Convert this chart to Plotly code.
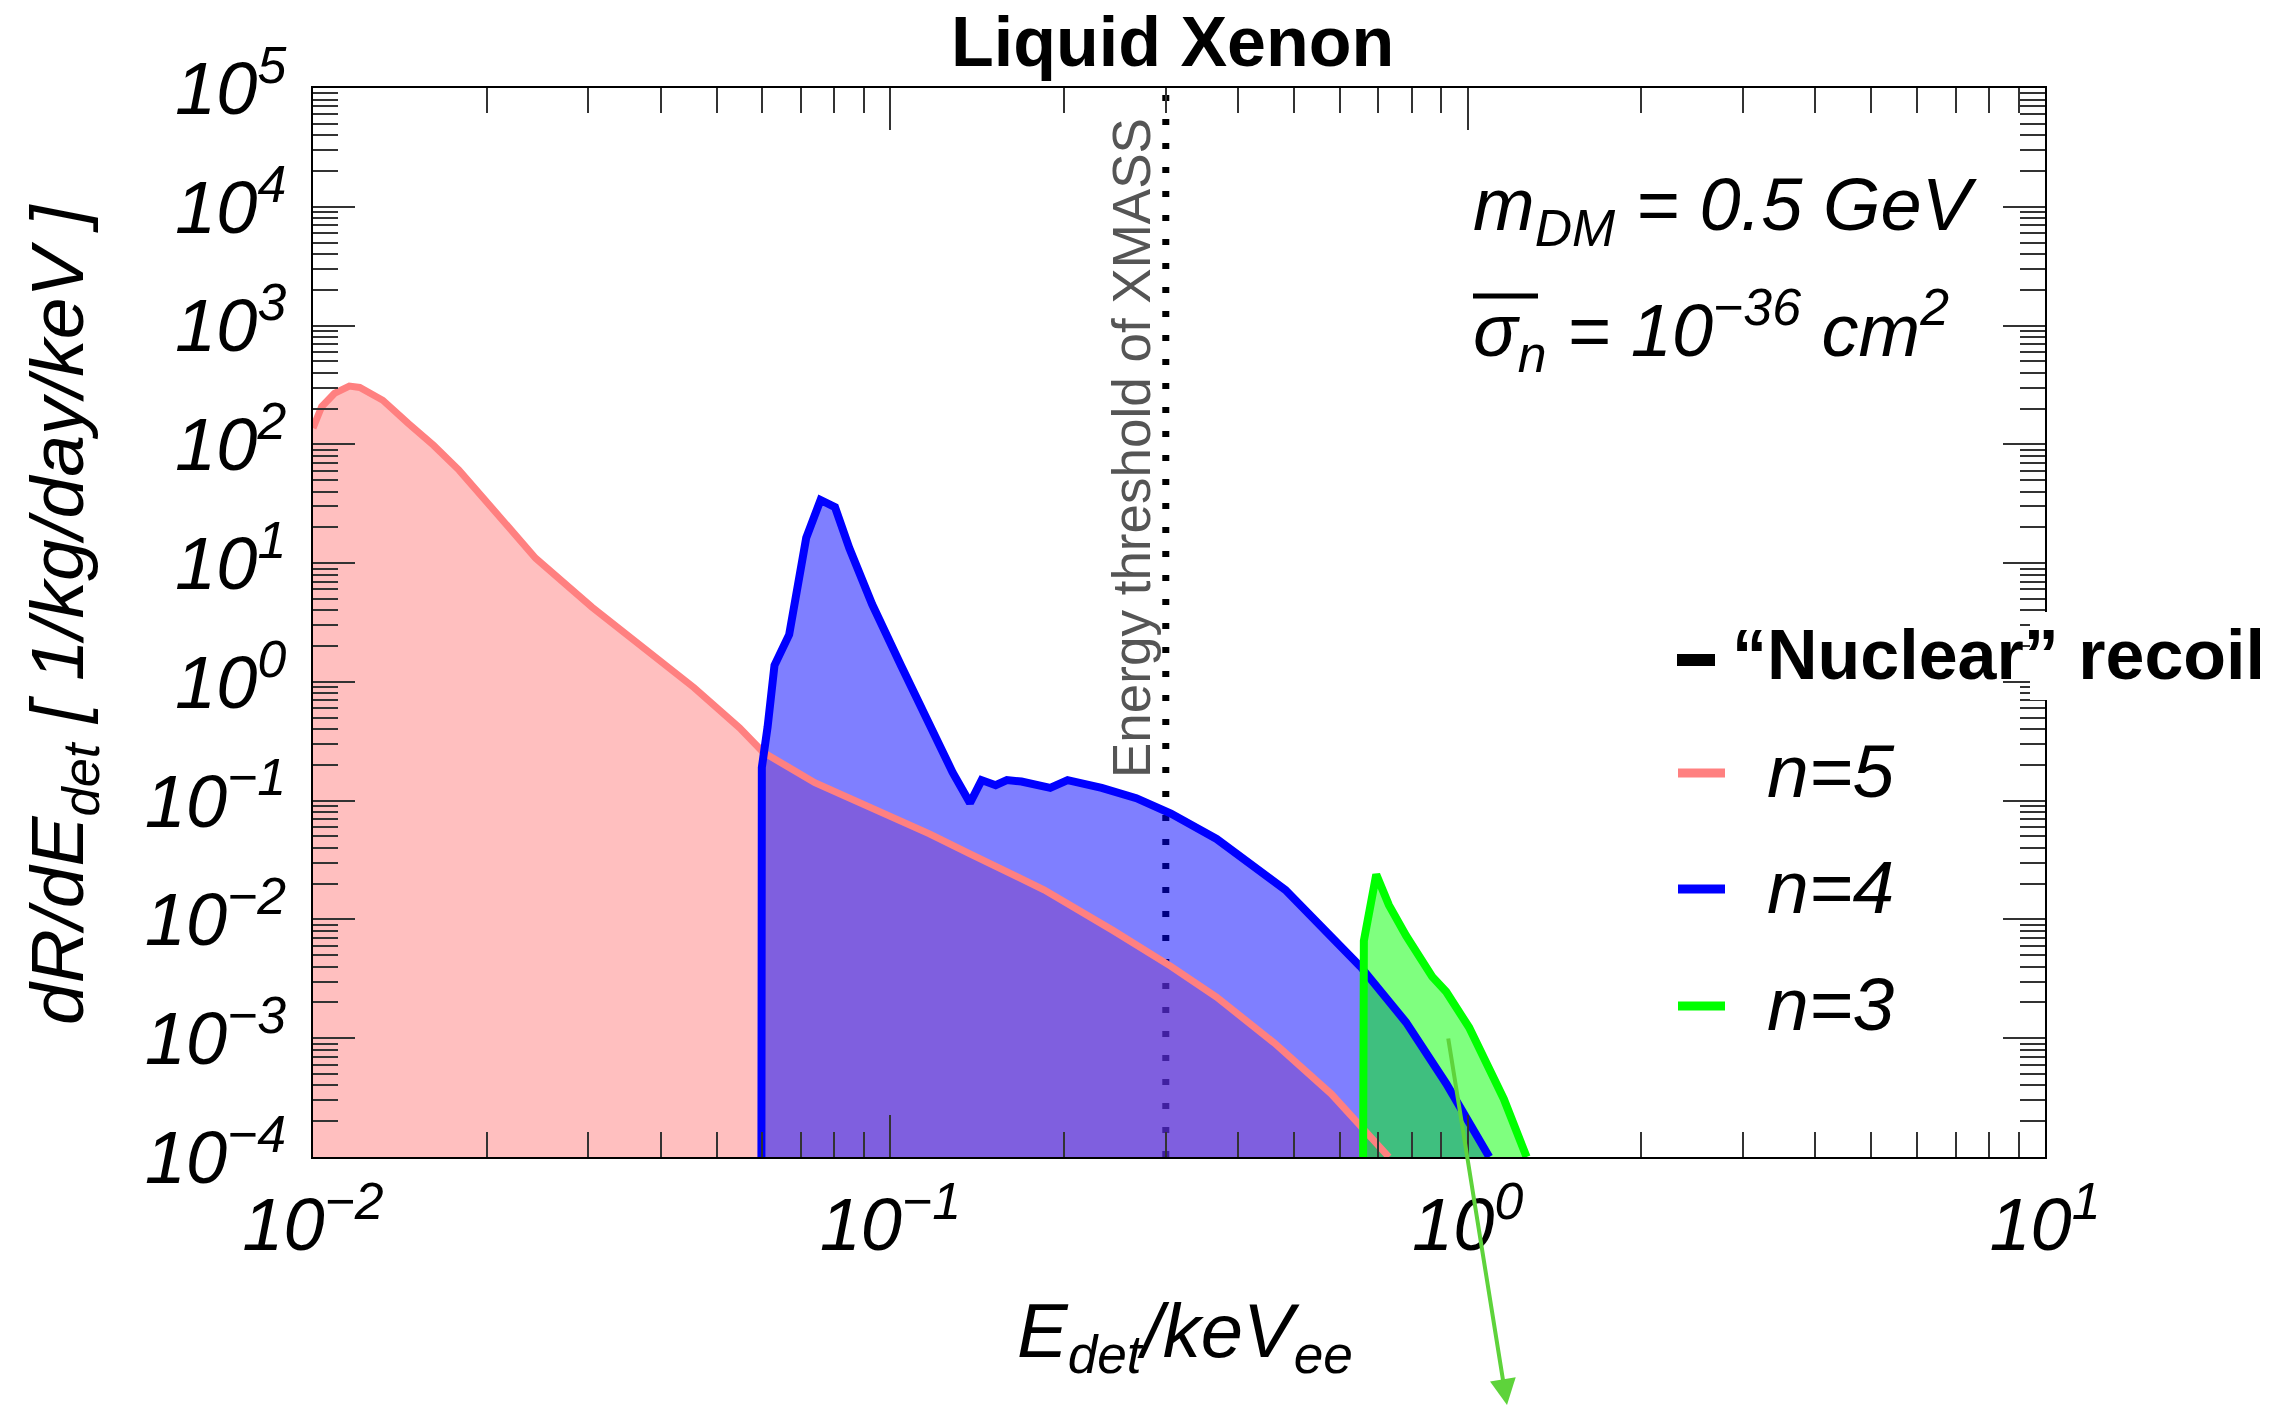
import plotly.graph_objects as go

# ---------------- data ----------------
n5_energy = [0.01, 0.01035, 0.01089, 0.01156, 0.01205, 0.01321, 0.01462, 0.01618,
             0.0179, 0.0199, 0.0243, 0.0304, 0.0373, 0.0457, 0.0548, 0.0602,
             0.0740, 0.0930, 0.1169, 0.1374, 0.1849, 0.2433, 0.3062, 0.3673,
             0.4624, 0.5808, 0.6516, 0.7304]
n5_rate = [137, 207, 268, 309, 301, 235, 150, 98,
           60.7, 33.9, 11.0, 4.27, 1.95, 0.895, 0.411, 0.256,
           0.1416, 0.0867, 0.0526, 0.0356, 0.0177, 0.00805, 0.00403, 0.00222,
           0.000912, 0.000339, 0.000186, 0.0001]

n4_energy = [0.0598, 0.0599, 0.0613, 0.0630, 0.0668, 0.0715, 0.0757, 0.0802,
             0.0849, 0.0930, 0.1043, 0.1169, 0.1282, 0.1374, 0.1439, 0.1522,
             0.1592, 0.1687, 0.1892, 0.2028, 0.2323, 0.2667, 0.3062, 0.3674,
             0.4836, 0.6516, 0.7822, 0.9183, 1.09]
n4_rate = [0.0001, 0.19, 0.42, 1.38, 2.5, 16.3, 34, 29.6,
           13.4, 4.5, 1.38, 0.42, 0.173, 0.0955, 0.149, 0.135,
           0.149, 0.145, 0.128, 0.149, 0.128, 0.105, 0.078, 0.0476,
           0.0177, 0.00403, 0.00136, 0.000414, 0.0001]

n3_energy = [0.659, 0.661, 0.6945, 0.7304, 0.7822, 0.868, 0.918, 1.006, 1.155, 1.265]
n3_rate = [0.0001, 0.0066, 0.0239, 0.0132, 0.0073, 0.0033, 0.00246, 0.00123, 0.000308, 0.0001]

threshold_energy = 0.3
y_span = [1e-4, 1e5]

x_tickvals = [0.01, 0.1, 1, 10]
x_ticktext = ["10<sup>−2</sup>", "10<sup>−1</sup>", "10<sup>0</sup>", "10<sup>1</sup>"]
y_tickvals = [1e-4, 1e-3, 1e-2, 1e-1, 1, 10, 100, 1e3, 1e4, 1e5]
y_ticktext = ["10<sup>−4</sup>", "10<sup>−3</sup>", "10<sup>−2</sup>", "10<sup>−1</sup>",
              "10<sup>0</sup>", "10<sup>1</sup>", "10<sup>2</sup>", "10<sup>3</sup>",
              "10<sup>4</sup>", "10<sup>5</sup>"]

series_labels = ["n=5", "n=4", "n=3"]
line_colors = ["#FF8080", "#0000FF", "#00FF00"]
fill_colors = ["rgba(255,128,128,0.5)", "rgba(0,0,255,0.5)", "rgba(0,255,0,0.5)"]
line_widths = [7, 8, 8]

# ---------------- geometry ----------------
W, H = 2296, 1409
L, R, T, B = 313, 2045, 88, 1157
FONT = "Liberation Sans, Arial, Helvetica, sans-serif"


def px(xpix):
    return (xpix - L) / (R - L)


def py(ypix):
    return (B - ypix) / (B - T)


fig = go.Figure()

# threshold dotted line (under the fills)
fig.add_trace(go.Scatter(x=[threshold_energy, threshold_energy], y=y_span, mode="lines",
                         line=dict(color="black", width=7, dash="6px,18px"),
                         hoverinfo="skip", showlegend=False))

series = [(n5_energy, n5_rate), (n4_energy, n4_rate), (n3_energy, n3_rate)]
for (xs, ys), fc in zip(series, fill_colors):
    fig.add_trace(go.Scatter(x=xs, y=ys, mode="lines", line=dict(width=0),
                             fill="tozeroy", fillcolor=fc, hoverinfo="skip",
                             showlegend=False))
for (xs, ys), lc, lw, name in zip(series, line_colors, line_widths, series_labels):
    fig.add_trace(go.Scatter(x=xs, y=ys, mode="lines", name=name,
                             line=dict(color=lc, width=lw), showlegend=False))

axis_common = dict(
    type="log", showline=True, linecolor="black", linewidth=2, mirror="ticks",
    ticks="inside", ticklen=42, tickwidth=1.5, tickcolor="#333",
    showgrid=False, zeroline=False,
    tickfont=dict(family=FONT, size=74, color="black", style="italic"),
    minor=dict(ticks="inside", ticklen=25, tickwidth=1.5, tickcolor="#333",
               dtick="D1", showgrid=False),
)

fig.update_xaxes(range=[-2, 1], tickmode="array", tickvals=x_tickvals,
                 ticktext=x_ticktext, ticklabelstandoff=2, **axis_common)
fig.update_yaxes(range=[-4, 5], tickmode="array", tickvals=y_tickvals,
                 ticktext=y_ticktext, ticklabelstandoff=10, **axis_common)

ann = []
# title
ann.append(dict(text="<b>Liquid Xenon</b>", x=px(1172), y=py(42), xref="paper", yref="paper",
                xanchor="center", yanchor="middle", showarrow=False,
                font=dict(family=FONT, size=70, color="black")))
# axis titles
ann.append(dict(text="E<sub>det</sub>/keV<sub>ee</sub>", x=px(1185), y=py(1336),
                xref="paper", yref="paper", xanchor="center", yanchor="middle",
                showarrow=False,
                font=dict(family=FONT, size=76, color="black", style="italic")))
ann.append(dict(text="dR/dE<sub>det</sub> [ 1/kg/day/keV ]", x=px(62), y=py(615),
                xref="paper", yref="paper", xanchor="center", yanchor="middle",
                textangle=-90, showarrow=False,
                font=dict(family=FONT, size=75, color="black", style="italic")))
# threshold label
ann.append(dict(text="Energy threshold of XMASS", x=px(1131), y=py(448),
                xref="paper", yref="paper", xanchor="center", yanchor="middle",
                textangle=-90, showarrow=False,
                font=dict(family=FONT, size=53, color="#555555")))
# parameters
ann.append(dict(text="m<sub>DM</sub> = 0.5 GeV", x=px(1471), y=py(210),
                xref="paper", yref="paper", xanchor="left", yanchor="middle",
                showarrow=False,
                font=dict(family=FONT, size=74, color="black", style="italic")))
ann.append(dict(text="σ<sub>n</sub> = 10<sup>−36</sup> cm<sup>2</sup>", x=px(1471), y=py(330),
                xref="paper", yref="paper", xanchor="left", yanchor="middle",
                showarrow=False,
                font=dict(family=FONT, size=74, color="black", style="italic")))
# legend
ann.append(dict(text="<b>“Nuclear” recoil</b>", x=px(1730), y=py(655),
                xref="paper", yref="paper", xanchor="left", yanchor="middle",
                showarrow=False, font=dict(family=FONT, size=70, color="black")))
legend_y = [771, 887, 1004]
for lab, yy in zip(series_labels, legend_y):
    ann.append(dict(text=lab, x=px(1765), y=py(yy), xref="paper", yref="paper",
                    xanchor="left", yanchor="middle", showarrow=False,
                    font=dict(family=FONT, size=75, color="black", style="italic")))
# green arrow
ann.append(dict(text="", x=px(1507), y=py(1405), xref="paper", yref="paper",
                showarrow=True, ax=-59, ay=-368, arrowhead=2, arrowsize=1.3,
                arrowwidth=4, arrowcolor="#5ED33B", standoff=0))

shapes = []
# white patch where the legend header crosses the right frame
shapes.append(dict(type="rect", xref="paper", yref="paper", x0=px(2030), x1=px(2062),
                   y0=py(700), y1=py(612), fillcolor="white", line=dict(width=0),
                   layer="above"))
shapes.append(dict(type="line", xref="paper", yref="paper", x0=px(1677), x1=px(1715),
                   y0=py(660), y1=py(660), line=dict(color="black", width=12),
                   layer="above"))
legend_line_y = [773, 889, 1006]
for lc, yy in zip(line_colors, legend_line_y):
    shapes.append(dict(type="line", xref="paper", yref="paper", x0=px(1678), x1=px(1725),
                       y0=py(yy), y1=py(yy), line=dict(color=lc, width=9), layer="above"))
# overline on sigma
shapes.append(dict(type="line", xref="paper", yref="paper", x0=px(1473), x1=px(1538),
                   y0=py(296), y1=py(296), line=dict(color="black", width=5),
                   layer="above"))

fig.update_layout(
    width=W, height=H,
    margin=dict(l=L, r=W - R, t=T, b=H - B, pad=0),
    paper_bgcolor="white", plot_bgcolor="white",
    showlegend=False,
    annotations=ann, shapes=shapes,
    font=dict(family=FONT, color="black"),
)

fig.write_html("out.html")
